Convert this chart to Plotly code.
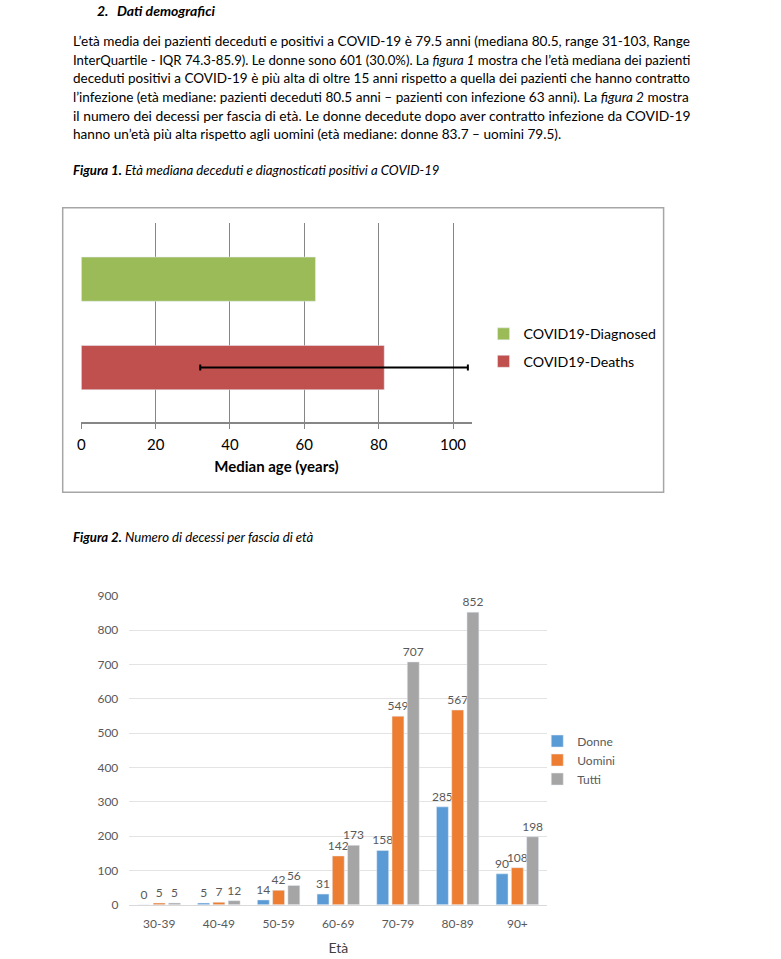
import plotly.graph_objects as go

W, H = 781, 959
FONT = "Lato, Liberation Sans, sans-serif"

# ---- Figure 1 data ----
fig1_categories = ["COVID19-Deaths", "COVID19-Diagnosed"]
fig1_diagnosed = [63]
fig1_deaths = [81.5]
fig1_deaths_low = 32
fig1_deaths_high = 104
fig1_ticks = [0, 20, 40, 60, 80, 100]

# ---- Figure 2 data ----
age_groups = ["30-39", "40-49", "50-59", "60-69", "70-79", "80-89", "90+"]
donne = [0, 5, 14, 31, 158, 285, 90]
uomini = [5, 7, 42, 142, 549, 567, 108]
tutti = [5, 12, 56, 173, 707, 852, 198]

paragraph = [
    "L’età media dei pazienti deceduti e positivi a COVID-19 è 79.5 anni (mediana 80.5, range 31-103, Range",
    "InterQuartile - IQR 74.3-85.9). Le donne sono 601 (30.0%). La <i>figura 1</i> mostra che l’età mediana dei pazienti",
    "deceduti positivi a COVID-19 è più alta di oltre 15 anni rispetto a quella dei pazienti che hanno contratto",
    "l’infezione (età mediane: pazienti deceduti 80.5 anni – pazienti con infezione 63 anni). La <i>figura 2</i> mostra",
    "il numero dei decessi per fascia di età. Le donne decedute dopo aver contratto infezione da COVID-19",
    "hanno un’età più alta rispetto agli uomini (età mediane: donne 83.7 – uomini 79.5).",
]
# per-line font sizes approximate the justified block of the original
paragraph_sizes = [13.6, 13.17, 13.5, 13.58, 13.86, 13.6]


def px(x):
    return x / W


def py(y):
    return 1 - y / H


fig = go.Figure()

fig.add_trace(go.Bar(
    y=[fig1_categories[1]], x=fig1_diagnosed, orientation="h",
    name="COVID19-Diagnosed", marker_color="#9BBB59", width=0.5,
    offsetgroup="f1", xaxis="x", yaxis="y", legend="legend", legendgroup="a",
    hoverinfo="skip",
))
fig.add_trace(go.Bar(
    y=[fig1_categories[0]], x=fig1_deaths, orientation="h",
    name="COVID19-Deaths", marker_color="#C0504D", width=0.5,
    offsetgroup="f1", xaxis="x", yaxis="y", legend="legend", legendgroup="b",
    error_x=dict(type="data", symmetric=False,
                 array=[fig1_deaths_high - fig1_deaths[0]],
                 arrayminus=[fig1_deaths[0] - fig1_deaths_low],
                 color="black", thickness=2, width=3),
    hoverinfo="skip",
))

for name, vals, col in [("Donne", donne, "#5B9BD5"), ("Uomini", uomini, "#ED7D31"), ("Tutti", tutti, "#A5A5A5")]:
    fig.add_trace(go.Bar(
        x=age_groups, y=vals, name=name, marker_color=col,
        text=vals, textposition="outside", cliponaxis=False, constraintext="none",
        textfont=dict(size=12, color="#595959", family=FONT),
        xaxis="x2", yaxis="y2", legend="legend2",
    ))

annotations = [
    dict(x=px(91), y=py(3), text="<b><i>2.</i></b>", font=dict(size=14, family=FONT, color="black"),
         xanchor="left", yanchor="middle"),
    dict(x=px(112), y=py(3), text="<b><i>Dati demografici</i></b>", font=dict(size=14, family=FONT, color="black"),
         xanchor="left", yanchor="middle"),
    dict(x=px(67), y=py(165), text="<b><i>Figura 1.</i></b><i> Età mediana deceduti e diagnosticati positivi a COVID-19</i>",
         font=dict(size=13.2, family=FONT, color="black"), xanchor="left", yanchor="middle"),
    dict(x=px(67), y=py(537), text="<b><i>Figura 2.</i></b><i> Numero di decessi per fascia di età</i>",
         font=dict(size=13.2, family=FONT, color="black"), xanchor="left", yanchor="middle"),
]
for i, line in enumerate(paragraph):
    annotations.append(dict(x=px(67), y=py(33.5 + i * 18.9), text=line,
                            font=dict(size=paragraph_sizes[i], family=FONT, color="black"),
                            xanchor="left", yanchor="middle"))
for a in annotations:
    a.update(xref="paper", yref="paper", showarrow=False)

fig.update_layout(
    width=W, height=H, autosize=False,
    margin=dict(l=0, r=0, t=0, b=0, pad=0),
    paper_bgcolor="white", plot_bgcolor="white",
    font=dict(family=FONT, color="black"),
    barmode="group", bargap=0.233, bargroupgap=0.22,
    annotations=annotations,
    shapes=[dict(type="rect", xref="paper", yref="paper",
                 x0=px(59), x1=px(663), y0=py(492), y1=py(203),
                 line=dict(color="#a6a6a6", width=1.5), fillcolor="rgba(0,0,0,0)", layer="below")],
    xaxis=dict(domain=[px(77.7), px(470)], range=[0, 105], tickvals=fig1_ticks,
               showgrid=True, gridcolor="#868686", gridwidth=1, zeroline=False,
               showline=True, linecolor="#868686", linewidth=2,
               ticks="outside", ticklen=5, tickcolor="#868686", ticklabelstandoff=3,
               tickfont=dict(size=15, family=FONT, color="black"),
               title=dict(text="<b>Median age (years)</b>", font=dict(size=15, family=FONT, color="black"), standoff=9),
               anchor="y", fixedrange=True),
    yaxis=dict(domain=[py(421), py(218)], type="category", categoryorder="array",
               categoryarray=fig1_categories, range=[-0.62, 1.64],
               showticklabels=False, showgrid=False, zeroline=False, showline=False,
               anchor="x", fixedrange=True),
    xaxis2=dict(domain=[px(126), px(546)], type="category", anchor="y2",
                showline=True, linecolor="#d9d9d9", linewidth=1, ticks="",
                ticklabelstandoff=8,
                tickfont=dict(size=12, family=FONT, color="#595959"),
                title=dict(text="Età", font=dict(size=14, family=FONT, color="#404040"), standoff=13),
                fixedrange=True),
    yaxis2=dict(domain=[py(911), py(597)], range=[0, 900], dtick=100, anchor="x2",
                showgrid=True, gridcolor="#e3e3e3", zeroline=False, showline=False,
                tickfont=dict(size=12, family=FONT, color="#595959"),
                ticklabelstandoff=10, fixedrange=True),
    legend=dict(x=px(482), y=py(345), xanchor="left", yanchor="middle", xref="paper", yref="paper",
                font=dict(size=14.2, family=FONT, color="black"), bgcolor="rgba(0,0,0,0)",
                tracegroupgap=6, itemwidth=30, itemclick=False),
    legend2=dict(x=px(536), y=py(764), xanchor="left", yanchor="middle", xref="paper", yref="paper",
                 font=dict(size=12, family=FONT, color="#595959"), bgcolor="rgba(0,0,0,0)",
                 tracegroupgap=0, itemwidth=30, itemclick=False),
    showlegend=True,
)

fig.write_html("out.html", config={"displayModeBar": False},
               post_script="document.body.style.margin='0';")
